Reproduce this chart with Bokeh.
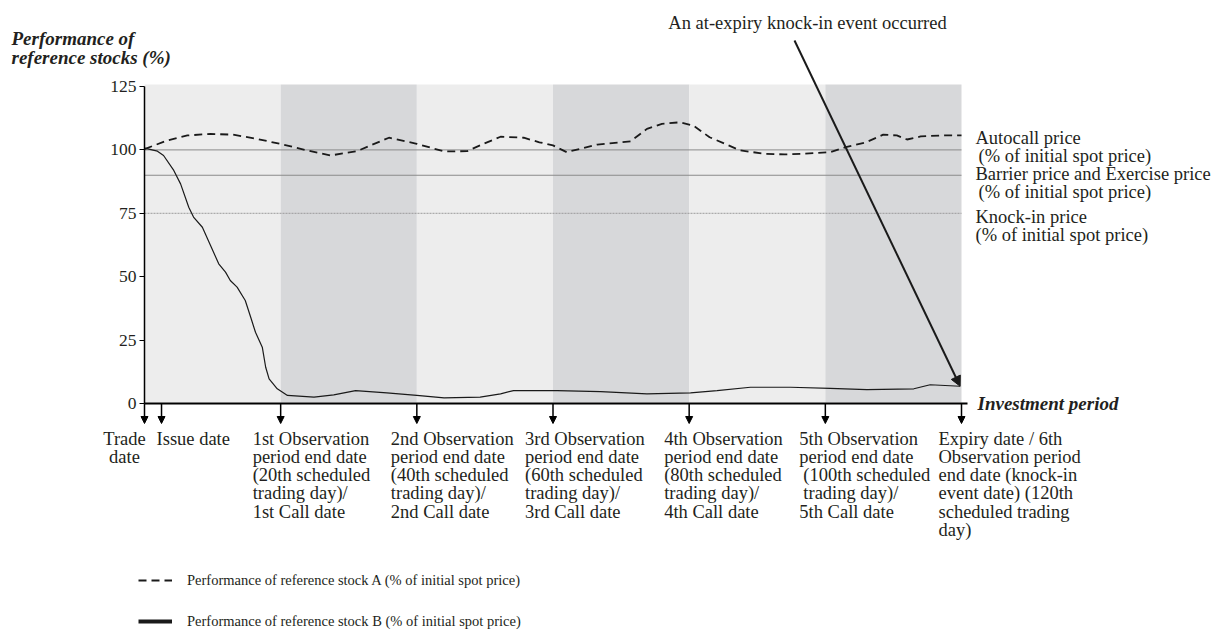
from bokeh.plotting import figure
from bokeh.models import (Range1d, ColumnDataSource, LabelSet, Label, Arrow, NormalHead,
                          FixedTicker, Legend, LegendItem, LinearAxis)
from bokeh.embed import file_html
from bokeh.resources import INLINE

# ---------------- data ----------------
obs_days = [0, 20, 40, 60, 80, 100, 120]

a_days = [0, 3.3, 6.3, 9.7, 13, 16.6, 20.4, 23.9, 27.3, 31.2, 35.9, 40, 44, 47.4, 49.8,
          52.3, 55.7, 58, 60, 62, 66.5, 71.4, 73.8, 76, 78.7, 80.6, 83, 87.5, 91, 94, 97,
          100.7, 103, 106, 108.5, 110.5, 112, 114, 117, 120]
a_vals = [100.3, 103.7, 105.7, 106.3, 106.0, 104.3, 102.1, 99.8, 97.8, 99.5, 104.8, 102.4,
          99.4, 99.5, 102.4, 105.2, 104.8, 103.0, 101.8, 99.1, 102.1, 103.4, 108.3, 110.3,
          110.9, 109.6, 105.0, 99.8, 98.5, 98.2, 98.5, 99.1, 101.1, 103.0, 106.0, 105.7,
          104.1, 105.3, 105.7, 105.7]

b_days = [0, 1.9, 2.8, 4.3, 5.3, 6.5, 7.2, 8.5, 9.7, 10.9, 11.9, 12.6, 13.6, 14.8, 15.6,
          16.3, 17.3, 17.8, 18.3, 19.5, 21, 24.9, 27.8, 31, 35.6, 40, 44, 49.3, 52.3, 54.2,
          60.6, 67, 73.8, 80.2, 84.1, 89, 94.9, 100.7, 106.1, 113, 115.4, 119.8]
b_vals = [100.7, 99.5, 97.8, 91.9, 86.6, 77.4, 73.5, 69.5, 62.3, 55.1, 51.8, 48.5, 45.9,
          40.6, 34.0, 28.1, 22.2, 14.3, 9.7, 5.8, 3.2, 2.5, 3.4, 5.1, 4.2, 3.2, 2.2, 2.5,
          3.8, 5.1, 5.1, 4.7, 3.8, 4.2, 5.1, 6.4, 6.4, 6.0, 5.5, 5.8, 7.4, 6.8]

autocall_level = 100
barrier_level = 90
knockin_level = 75
y_ticks = [0, 25, 50, 75, 100, 125]

event_days = [0, 2.5, 20, 40, 60, 80, 100, 120]
event_labels = [
    "Trade\ndate",
    "Issue date",
    "1st Observation\nperiod end date\n(20th scheduled\ntrading day)/\n1st Call date",
    "2nd Observation\nperiod end date\n(40th scheduled\ntrading day)/\n2nd Call date",
    "3rd Observation\nperiod end date\n(60th scheduled\ntrading day)/\n3rd Call date",
    "4th Observation\nperiod end date\n(80th scheduled\ntrading day)/\n4th Call date",
    "5th Observation\nperiod end date\n (100th scheduled\n trading day)/\n5th Call date",
    "Expiry date / 6th\nObservation period\nend date (knock-in\nevent date) (120th\nscheduled trading\nday)",
]
level_labels = [
    "Autocall price\n (% of initial spot price)",
    "Barrier price and Exercise price\n (% of initial spot price)",
    "Knock-in price\n(% of initial spot price)",
]
y_title = "Performance of\nreference stocks (%)"
x_title = "Investment period"
event_note = "An at-expiry knock-in event occurred"
legend_a = "Performance of reference stock A (% of initial spot price)"
legend_b = "Performance of reference stock B (% of initial spot price)"

# ---------------- layout (pixel geometry of the canvas) ----------------
FONT = "Liberation Serif"
FS = "18.5px"
TXT = "#231f20"
W, H = 1221, 635
X0_PX, X120_PX = 144, 961     # day 0 / day 120
Y0_PX, Y125_PX = 403, 86      # 0 % / 125 %
PXD = (X120_PX - X0_PX) / 120.0
PXV = (Y0_PX - Y125_PX) / 125.0


def dx(px):
    return (px - X0_PX) / PXD


def dy(py):
    return (Y0_PX - py) / PXV


p = figure(width=W, height=H, output_backend="svg", toolbar_location=None,
           x_range=Range1d(dx(0), dx(W)), y_range=Range1d(dy(H), dy(0)),
           x_axis_location=None, y_axis_location=None,
           min_border_left=0, min_border_right=0, min_border_top=0, min_border_bottom=0)
p.outline_line_color = None
p.grid.visible = False
p.background_fill_color = "white"

# shading bands
band_colors = ["#ededed", "#d7d8da"] * 3
p.quad(left=obs_days[:-1], right=obs_days[1:], bottom=dy(402), top=dy(84),
       fill_color=band_colors, line_color=None)

# level lines
p.segment(x0=[obs_days[0]] * 2, x1=[obs_days[-1]] * 2,
          y0=[autocall_level, barrier_level], y1=[autocall_level, barrier_level],
          line_color="#8a8a8a", line_width=1)
p.segment(x0=[obs_days[0]], x1=[obs_days[-1]], y0=[knockin_level], y1=[knockin_level],
          line_color="#9a9a9a", line_width=1, line_dash="2 1")

# series
ra = p.line(a_days, a_vals, line_color="#1a1a1a", line_width=1.8, line_dash="8 5")
rb = p.line(b_days, b_vals, line_color="#1a1a1a", line_width=1.2)
# thick legend swatch for stock B (no visible data of its own)
rb_leg = p.line(x=[b_days[0], b_days[0]], y=[float("nan"), float("nan")],
                line_color="#1a1a1a", line_width=4)

# axes (fixed at the origin)
yax = LinearAxis(fixed_location=0, ticker=FixedTicker(ticks=y_ticks), bounds=(0, 125))
yax.axis_line_color = "black"
yax.axis_line_width = 1.5
yax.major_tick_in = 0
yax.major_tick_out = 5
yax.major_tick_line_color = "black"
yax.minor_tick_line_color = None
yax.major_label_text_font = FONT
yax.major_label_text_font_size = "17.5px"
yax.major_label_text_color = TXT
yax.major_label_standoff = 3
p.add_layout(yax, "left")

xax = LinearAxis(fixed_location=0, ticker=FixedTicker(ticks=[]), bounds=(0, dx(967)))
xax.axis_line_color = "black"
xax.axis_line_width = 2
xax.major_tick_line_color = None
xax.minor_tick_line_color = None
xax.major_label_text_font_size = "0px"
p.add_layout(xax, "below")

# event arrows along the time axis
arr_src = ColumnDataSource(dict(x0=event_days, y0=[0] * len(event_days),
                                x1=event_days, y1=[dy(Y0_PX + 20)] * len(event_days)))
p.add_layout(Arrow(source=arr_src, x_start="x0", y_start="y0", x_end="x1", y_end="y1",
                   line_width=1.5, line_color="black",
                   end=NormalHead(size=7, fill_color="black", line_color="black")))

# event labels
offsets = [-20, -5, -28, -26, -28, -25, -26, -23]
left_rows = dict(x=[], y=[], t=[])
center_rows = dict(x=[], y=[], t=[])
for d, lab, off in zip(event_days, event_labels, offsets):
    for j, line in enumerate(lab.split("\n")):
        indent = 4 if line.startswith(" ") else 0
        row = center_rows if lab.startswith("Trade") else left_rows
        row["x"].append(d + (off + indent) / PXD)
        row["y"].append(dy(438 + j * 18.3))
        row["t"].append(line.strip())

for rows, align in ((left_rows, "left"), (center_rows, "center")):
    p.add_layout(LabelSet(source=ColumnDataSource(rows), x="x", y="y", text="t",
                          text_font=FONT, text_font_size=FS, text_color=TXT,
                          text_align=align, text_baseline="middle"))

# level labels on the right
lvl_rows = dict(x=[], y=[], t=[])
lvl_pos = [137, 173, 216]
for lab, py in zip(level_labels, lvl_pos):
    for j, line in enumerate(lab.split("\n")):
        indent = 3 if line.startswith(" ") else 0
        lvl_rows["x"].append(dx(975 + indent))
        lvl_rows["y"].append(dy(py + j * 18.3))
        lvl_rows["t"].append(line.strip())
p.add_layout(LabelSet(source=ColumnDataSource(lvl_rows), x="x", y="y", text="t",
                      text_font=FONT, text_font_size=FS, text_color=TXT,
                      text_align="left", text_baseline="middle"))

# titles
for j, line in enumerate(y_title.split("\n")):
    p.add_layout(Label(x=dx(11), y=dy(38 + j * 19), text=line, text_font=FONT,
                       text_font_size="19px", text_font_style="bold italic",
                       text_color=TXT, text_baseline="middle"))
p.add_layout(Label(x=dx(977), y=0, text=x_title, text_font=FONT, text_font_size="19px",
                   text_font_style="bold italic", text_color=TXT, text_baseline="middle"))

# knock-in note with arrow to the final point of stock B
p.add_layout(Label(x=dx(807), y=dy(22), text=event_note, text_font=FONT,
                   text_font_size=FS, text_color=TXT, text_align="center",
                   text_baseline="middle"))
p.add_layout(Arrow(x_start=dx(794), y_start=dy(40), x_end=b_days[-1], y_end=b_vals[-1],
                   line_width=2, line_color="#1a1a1a",
                   end=NormalHead(size=10, fill_color="#1a1a1a", line_color="#1a1a1a")))

# legend
legend = Legend(items=[LegendItem(label=legend_a, renderers=[ra]),
                       LegendItem(label=legend_b, renderers=[rb_leg])],
                location=(138, 5), orientation="vertical",
                glyph_width=34, glyph_height=18, label_height=18, spacing=23,
                label_standoff=15, padding=0, margin=0,
                label_text_font=FONT, label_text_font_size="14.5px",
                label_text_color=TXT, background_fill_alpha=0, border_line_alpha=0)
p.add_layout(legend)

open("out.html", "w").write(file_html(p, INLINE))
